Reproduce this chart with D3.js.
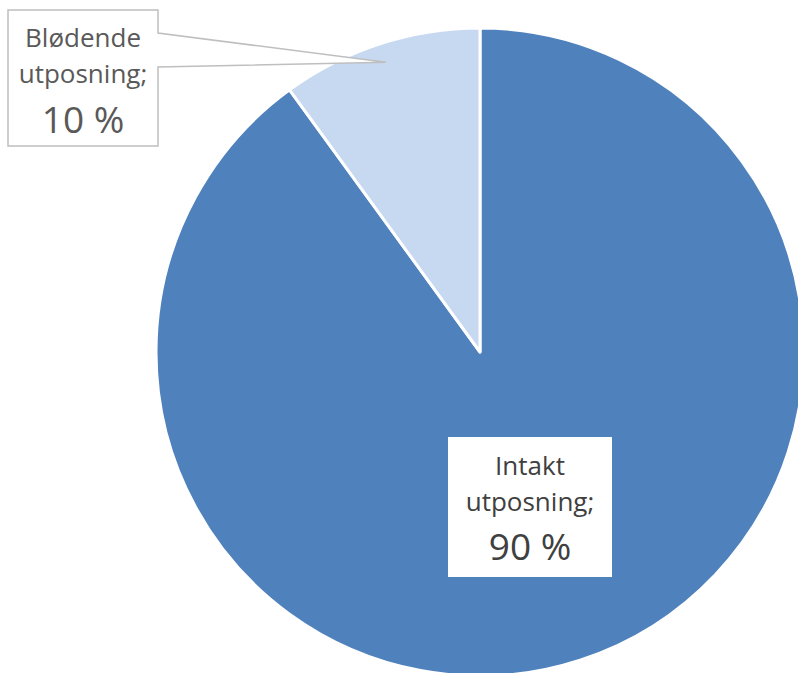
<!DOCTYPE html>
<html>
<head>
<meta charset="utf-8">
<script src="https://cdn.jsdelivr.net/npm/d3@7"></script>
<style>
  html, body { margin: 0; padding: 0; background: #fff; }
  svg { display: block; }
</style>
</head>
<body>
<div id="chart"></div>
<script>
// Pie data: share of each outcome (percent)
const categories = ['Intakt utposning', 'Blødende utposning'];
const values = [90, 10];
const colors = ['#4f81bd', '#c6d9f0'];

const W = 798, H = 673;
const cx = 480, cy = 352, radius = 324;

const svg = d3.select('#chart').append('svg')
  .attr('width', W).attr('height', H)
  .attr('viewBox', `0 0 ${W} ${H}`);

const pie = d3.pie().sort(null).value(d => d);
const arcs = pie(values);
const arc = d3.arc().innerRadius(0).outerRadius(radius);

const g = svg.append('g').attr('transform', `translate(${cx},${cy})`);

g.selectAll('path.slice')
  .data(arcs)
  .join('path')
  .attr('class', 'slice')
  .attr('d', arc)
  .attr('fill', (d, i) => colors[i])
  .attr('stroke', '#fff')
  .attr('stroke-width', 3)
  .attr('stroke-linejoin', 'round');

const font = "'Open Sans', 'Liberation Sans', sans-serif";

function labelText(x, lines, ys, sizes, fill) {
  lines.forEach((t, i) => {
    svg.append('text')
      .attr('x', x).attr('y', ys[i])
      .attr('text-anchor', 'middle')
      .attr('dominant-baseline', 'central')
      .attr('font-family', font)
      .attr('font-size', sizes[i] + 'px')
      .attr('fill', fill)
      .text(t);
  });
}

// --- label for the big slice (inside, white box) ---
const big = { x: 448, y: 437, w: 164, h: 140 };
svg.append('rect')
  .attr('x', big.x).attr('y', big.y)
  .attr('width', big.w).attr('height', big.h)
  .attr('fill', '#fff');

labelText(big.x + big.w / 2,
  ['Intakt', 'utposning;', values[0] + ' %'],
  [465, 501, 545], [26, 26, 37], '#404040');

// --- callout label for the small slice (outside, pointer to the slice) ---
const small = { x: 8, y: 10, w: 150, h: 136 };
const mid = (arcs[1].startAngle + arcs[1].endAngle) / 2;
const tipR = radius * 0.94;
const tip = [cx + tipR * Math.sin(mid), cy - tipR * Math.cos(mid)];

const callout = d3.path();
callout.moveTo(small.x, small.y);
callout.lineTo(small.x + small.w, small.y);
callout.lineTo(small.x + small.w, 33);
callout.lineTo(tip[0], tip[1]);
callout.lineTo(small.x + small.w, 67);
callout.lineTo(small.x + small.w, small.y + small.h);
callout.lineTo(small.x, small.y + small.h);
callout.closePath();

svg.append('path')
  .attr('d', callout.toString())
  .attr('fill', '#fff')
  .attr('stroke', '#bfbfbf')
  .attr('stroke-width', 1.5);

labelText(small.x + small.w / 2,
  ['Blødende', 'utposning;', values[1] + ' %'],
  [37, 73, 118], [26, 26, 37], '#595959');
</script>
</body>
</html>
